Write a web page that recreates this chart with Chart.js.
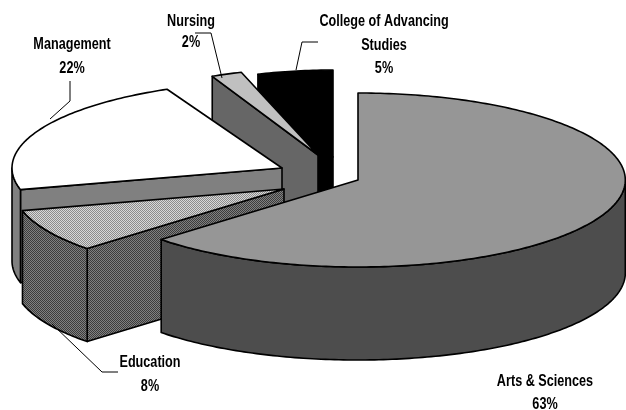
<!DOCTYPE html>
<html><head><meta charset="utf-8">
<script src="https://cdn.jsdelivr.net/npm/chart.js@4"></script>
<style>html,body{margin:0;padding:0;background:#fff}canvas{display:block}</style>
</head><body><div style="width:626px;height:410px"><canvas id="c"></canvas></div>
<script>
const categories = ['Arts & Sciences','Education','Management','Nursing','College of Advancing Studies'];
const shares = [63,8,22,2,5];
const percentLabels = ['63%','8%','22%','2%','5%'];
const topColors = ['#969696','#b2b2b2','#ffffff','#c0c0c0','#000000'];
const wallColors = ['#4d4d4d','#5e5e5e','#808080','#666666','#000000'];
const drawOrder = [4,3,2,1,0];
// explosion of each slice from the pie centre (screen px)
const explodeX = [38,-36,-38,-2,13];
const explodeY = [2,11,-10,-23,-21];
// horizontal squash for left and right half of each slice
const squashLeft = [1,1,1,.92,.9];
const squashRight = [.99,1,1,1,1];
const RADIUS = 270, TILT = 87/270, DEPTH = 93;
// text blocks: lines, centre x, first baseline, line step
const labelBlocks = [
  {lines:['Arts & Sciences','63%'],x:545,y:386,step:23},
  {lines:['Education','8%'],x:150,y:367,step:24},
  {lines:['Management','22%'],x:72,y:49,step:24},
  {lines:['Nursing','2%'],x:191,y:26,step:21},
  {lines:['College of Advancing','Studies','5%'],x:384,y:26,step:23.5}
];
const leaderX = [[118,102,52],[70,70,50],[195,211,222],[318,302,296]];
const leaderY = [[372,372,324],[81,101,119],[33,33,78],[42,42,70]];

function checker(a,b){
  const p=document.createElement('canvas');p.width=p.height=2;
  const g=p.getContext('2d');g.fillStyle=a;g.fillRect(0,0,2,2);g.fillStyle=b;g.fillRect(0,0,1,1);g.fillRect(1,1,1,1);
  return g;
}
const pie3d = {
  id:'pie3d',
  beforeDatasetsDraw(chart){
    const ctx=chart.ctx, meta=chart.getDatasetMeta(0);
    const topPat=ctx.createPattern(checker('#d8d8d8','#8c8c8c').canvas,'repeat');
    const wallPat=ctx.createPattern(checker('#808080','#3c3c3c').canvas,'repeat');
    const fillsTop={1:topPat}, fillsWall={1:wallPat};
    drawOrder.forEach(i=>{
      const el=meta.data[i];
      const ax=el.x+explodeX[i], ay=el.y+explodeY[i];
      const P=(t,d=0)=>{const c=Math.cos(t),s=Math.sin(t);
        const sq=c<0?squashLeft[i]:squashRight[i];
        return [ax+RADIUS*sq*c, ay+RADIUS*TILT*s+d];};
      const poly=(pts,fill)=>{ctx.beginPath();pts.forEach((p,k)=>k?ctx.lineTo(p[0],p[1]):ctx.moveTo(p[0],p[1]));ctx.closePath();
        ctx.fillStyle=fill;ctx.fill();ctx.stroke();};
      const arcPts=(a,b,d=0)=>{const n=Math.max(2,Math.ceil(Math.abs(b-a)*60)),o=[];for(let k=0;k<=n;k++)o.push(P(a+(b-a)*k/n,d));return o;};
      ctx.save();
      ctx.lineWidth=1.6;ctx.strokeStyle='#000';ctx.lineJoin='round';
      const wall=fillsWall[i]||wallColors[i];
      // visible cut face on the starting radius
      const fromTop=el.startAngle+Math.PI/2;
      if(fromTop>Math.PI){
        const e=P(el.startAngle);
        poly([[ax,ay],e,[e[0],e[1]+DEPTH],[ax,ay+DEPTH]],wall);
      }
      // outer wall: only the arc part that faces the viewer (canvas angle 0..PI)
      const lo=Math.max(el.startAngle,0), hi=Math.min(el.endAngle,Math.PI);
      const lo2=Math.max(el.startAngle,2*Math.PI), hi2=Math.min(el.endAngle,3*Math.PI);
      [[lo,hi],[lo2,hi2]].forEach(([a,b])=>{ if(b>a){
        poly(arcPts(a,b).concat(arcPts(b,a,DEPTH)),wall);
      }});
      // top face, through the library's own arc element
      const faces = squashLeft[i]===squashRight[i] ? [[squashLeft[i],null]] : [[squashLeft[i],-1],[squashRight[i],1]];
      faces.forEach(([sq,side])=>{
        ctx.save();
        if(side){ctx.beginPath();ctx.rect(side<0?0:ax,0,side<0?ax:chart.width-ax,chart.height);ctx.clip();}
        ctx.translate(ax,ay);ctx.scale(sq,TILT);ctx.translate(-el.x,-el.y);
        el.draw(ctx);
        ctx.restore();
      });
      const outline=[[ax,ay]].concat(arcPts(el.startAngle,el.endAngle));
      ctx.beginPath();outline.forEach((p,k)=>k?ctx.lineTo(p[0],p[1]):ctx.moveTo(p[0],p[1]));ctx.closePath();
      if(fillsTop[i]){ctx.fillStyle=fillsTop[i];ctx.fill();}
      ctx.stroke();
      ctx.restore();
    });
    return false;
  },
  afterDraw(chart){
    const ctx=chart.ctx;
    ctx.save();
    ctx.strokeStyle='#000';ctx.lineWidth=1;
    leaderX.forEach((xs,k)=>{ctx.beginPath();xs.forEach((x,j)=>j?ctx.lineTo(x,leaderY[k][j]):ctx.moveTo(x,leaderY[k][j]));ctx.stroke();});
    ctx.fillStyle='#000';ctx.textAlign='center';ctx.textBaseline='alphabetic';
    ctx.font='bold 16px "Liberation Sans"';
    labelBlocks.forEach(b=>b.lines.forEach((t,j)=>{
      ctx.save();ctx.translate(b.x,b.y+j*b.step);ctx.scale(.79,1);ctx.fillText(t,0,0);ctx.restore();
    }));
    ctx.restore();
  }
};
new Chart(document.getElementById('c'),{
  type:'pie',
  data:{labels:categories,datasets:[{data:shares,backgroundColor:topColors,borderWidth:0,radius:RADIUS}]},
  options:{responsive:true,maintainAspectRatio:false,animation:false,
    layout:{padding:{left:14,bottom:54}},
    radius:RADIUS,
    plugins:{legend:{display:false},tooltip:{enabled:false}}},
  plugins:[pie3d]
});
</script></body></html>
